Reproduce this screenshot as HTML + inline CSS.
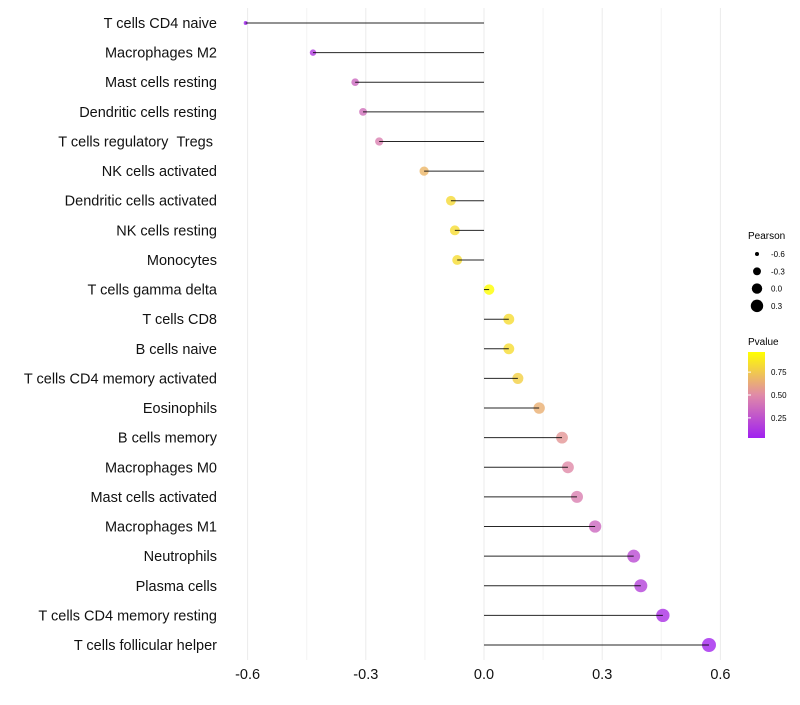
<!DOCTYPE html>
<html><head><meta charset="utf-8"><style>
body{margin:0;background:#fff;font-family:"Liberation Sans",sans-serif}
</style></head><body>
<svg id="chart" width="800" height="700" xmlns="http://www.w3.org/2000/svg" font-family="Liberation Sans, sans-serif">
<defs><linearGradient id="pg" x1="0" y1="1" x2="0" y2="0">
<stop offset="0" stop-color="#a020f0"/><stop offset="0.5" stop-color="#e08aa8"/><stop offset="1" stop-color="#ffff00"/></linearGradient></defs>
<g id="grid"></g>
<g id="marks"></g>
<g id="labels"></g>
<g id="xticks"></g>
<g>
<text x="748" y="239" font-size="10">Pearson</text>
<g id="sizeLegend"></g>
</g>
<g>
<text x="748" y="345" font-size="10">Pvalue</text>
<rect x="748" y="352" width="17" height="86" fill="url(#pg)"/>
<g id="colorLegend"></g>
</g>
</svg>
<script>
const categories=["T cells CD4 naive","Macrophages M2","Mast cells resting","Dendritic cells resting","T cells regulatory \u00a0Tregs\u00a0","NK cells activated","Dendritic cells activated","NK cells resting","Monocytes","T cells gamma delta","T cells CD8","B cells naive","T cells CD4 memory activated","Eosinophils","B cells memory","Macrophages M0","Mast cells activated","Macrophages M1","Neutrophils","Plasma cells","T cells CD4 memory resting","T cells follicular helper"];
const pearson=[-0.605,-0.434,-0.327,-0.307,-0.266,-0.152,-0.084,-0.074,-0.068,0.013,0.063,0.063,0.086,0.14,0.198,0.213,0.236,0.282,0.38,0.398,0.454,0.571];
const pvalue=[0.02,0.15,0.35,0.38,0.45,0.68,0.82,0.83,0.83,0.97,0.83,0.83,0.78,0.65,0.55,0.5,0.45,0.35,0.22,0.18,0.1,0.05];
const xTicks=[-0.6,-0.3,0.0,0.3,0.6];
const xTickLabels=["-0.6","-0.3","0.0","0.3","0.6"];
const sizeLegendVals=[-0.6,-0.3,0.0,0.3];
const colorLegendVals=[0.25,0.5,0.75];

const NS="http://www.w3.org/2000/svg";
const x=v=>484+v*394;
const y=i=>23+i*(622/(categories.length-1));
const r=v=>Math.sqrt(4+45*(v+0.6)/1.17);
const lerp=(a,b,t)=>a.map((c,k)=>Math.round(c+(b[k]-c)*t));
function col(p){const t=Math.max(0,Math.min(1,(p-0.03)/0.94));
 const A=[160,32,240],M=[224,138,168],B=[255,255,0];
 const c=t<0.5?lerp(A,M,t*2):lerp(M,B,(t-0.5)*2);return `rgb(${c})`;}
function mk(tag,attrs,parent){const e=document.createElementNS(NS,tag);for(const k in attrs)e.setAttribute(k,attrs[k]);document.getElementById(parent).appendChild(e);return e;}

for(let k=0;k<=8;k++){
 const v=-0.6+k*0.15;
 const g=mk("line",{x1:x(v),x2:x(v),y1:8,y2:660,stroke:k%2?"#f3f3f3":"#ebebeb","stroke-width":1},"grid");
 
 
}
categories.forEach((c,i)=>{
 const yy=y(i);
 const d=mk("circle",{cx:x(pearson[i]),cy:yy,r:r(pearson[i]),fill:col(pvalue[i]),"fill-opacity":0.8},"marks");
 
 
 const l=mk("line",{x1:x(0),x2:x(pearson[i]),y1:yy,y2:yy,stroke:"#000","stroke-width":1,"stroke-opacity":0.85},"marks");
 
 
 const t=mk("text",{x:217,y:yy+5,"text-anchor":"end","font-size":14.5,fill:"#111"},"labels");
 t.textContent=c;
 
 
});
xTicks.forEach((v,i)=>{
 const t=mk("text",{x:x(v),y:679,"text-anchor":"middle","font-size":14.5,fill:"#111"},"xticks");
 t.textContent=xTickLabels[i];
 
 
});
sizeLegendVals.forEach((v,i)=>{
 const yy=254+i*17.3;
 const c=mk("circle",{cx:757,cy:yy,r:r(v),fill:"#000"},"sizeLegend");
 
 
 const t=mk("text",{x:771,y:yy+3,"font-size":8},"sizeLegend");
 t.textContent=v.toFixed(1);
 
 
});
colorLegendVals.forEach(v=>{
 const yy=438-(v-0.03)/0.94*86;
 const t=mk("text",{x:771,y:yy+3,"font-size":8},"colorLegend");
 t.textContent=v.toFixed(2);
 
 
 const l=mk("line",{x1:748,x2:751,y1:yy,y2:yy,stroke:"#fff"},"colorLegend");
 
 
});
</script>
</body></html>
